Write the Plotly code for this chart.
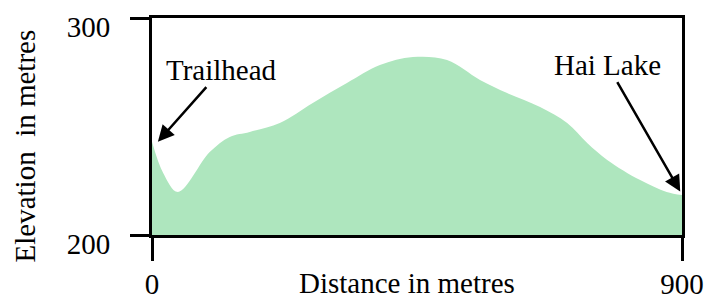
import plotly.graph_objects as go

distance = [0, 19, 44, 98, 132, 166, 217, 273, 331, 387, 443, 501, 557, 603, 659, 705, 739, 773, 829, 874, 900]
elevation = [243, 228.6, 219.8, 238.2, 245.2, 247.5, 251.6, 260.8, 270, 278.3, 282, 280.6, 271.4, 265.4, 259, 251.6, 242.4, 234.6, 225.3, 219.8, 218.4]
x_ticks = [0, 900]
y_ticks = [200, 300]

FONT = "Liberation Serif, DejaVu Serif, serif"
fs = 29

fig = go.Figure()
fig.add_trace(go.Scatter(
    x=distance, y=elevation, mode="lines",
    line=dict(shape="spline", smoothing=1.0, width=0, color="rgb(174,230,190)"),
    fill="tozeroy", fillcolor="rgb(174,230,190)", hoverinfo="skip",
))

fig.add_annotation(x=10, y=243, xref="x", yref="y", text="Trailhead",
                   ax=64, ay=-72, showarrow=True, arrowhead=2, arrowsize=1.3,
                   arrowwidth=2.5, arrowcolor="black",
                   font=dict(family=FONT, size=fs, color="black"))
fig.add_annotation(x=897, y=220, xref="x", yref="y", text="Hai Lake",
                   ax=-73, ay=-127, showarrow=True, arrowhead=2, arrowsize=1.3,
                   arrowwidth=2.5, arrowcolor="black",
                   font=dict(family=FONT, size=fs, color="black"))
fig.add_annotation(x=0.482, y=0, xref="paper", yref="paper", yanchor="middle",
                   yshift=-48, text="Distance in metres", showarrow=False,
                   font=dict(family=FONT, size=fs, color="black"))
fig.add_annotation(x=0, y=0.5, xref="paper", yref="paper", xanchor="center",
                   yanchor="middle", xshift=-128, yshift=-20, textangle=-90,
                   text="Elevation\u00a0 in metres", showarrow=False,
                   font=dict(family=FONT, size=fs, color="black"))

fig.update_layout(
    width=709, height=290,
    margin=dict(l=144, r=35, t=10, b=63),
    plot_bgcolor="white", paper_bgcolor="white",
    showlegend=False,
    font=dict(family=FONT, size=fs, color="black"),
)
fig.update_xaxes(range=[0, 900], tickvals=x_ticks, showgrid=False, zeroline=False,
                 showline=True, linecolor="black", linewidth=3, mirror=True,
                 ticks="outside", ticklen=23, tickwidth=2.5, tickcolor="black",
                 ticklabelstandoff=-2, ticklabeloverflow="allow", automargin=False)
fig.update_yaxes(range=[200, 300], tickvals=y_ticks, showgrid=False, zeroline=False,
                 showline=True, linecolor="black", linewidth=3, mirror=True,
                 ticks="outside", ticklen=19, tickwidth=2.5, tickcolor="black",
                 ticklabelstandoff=14, ticklabelshift=9, ticklabeloverflow="allow",
                 automargin=False)

fig.write_html("out.html")
